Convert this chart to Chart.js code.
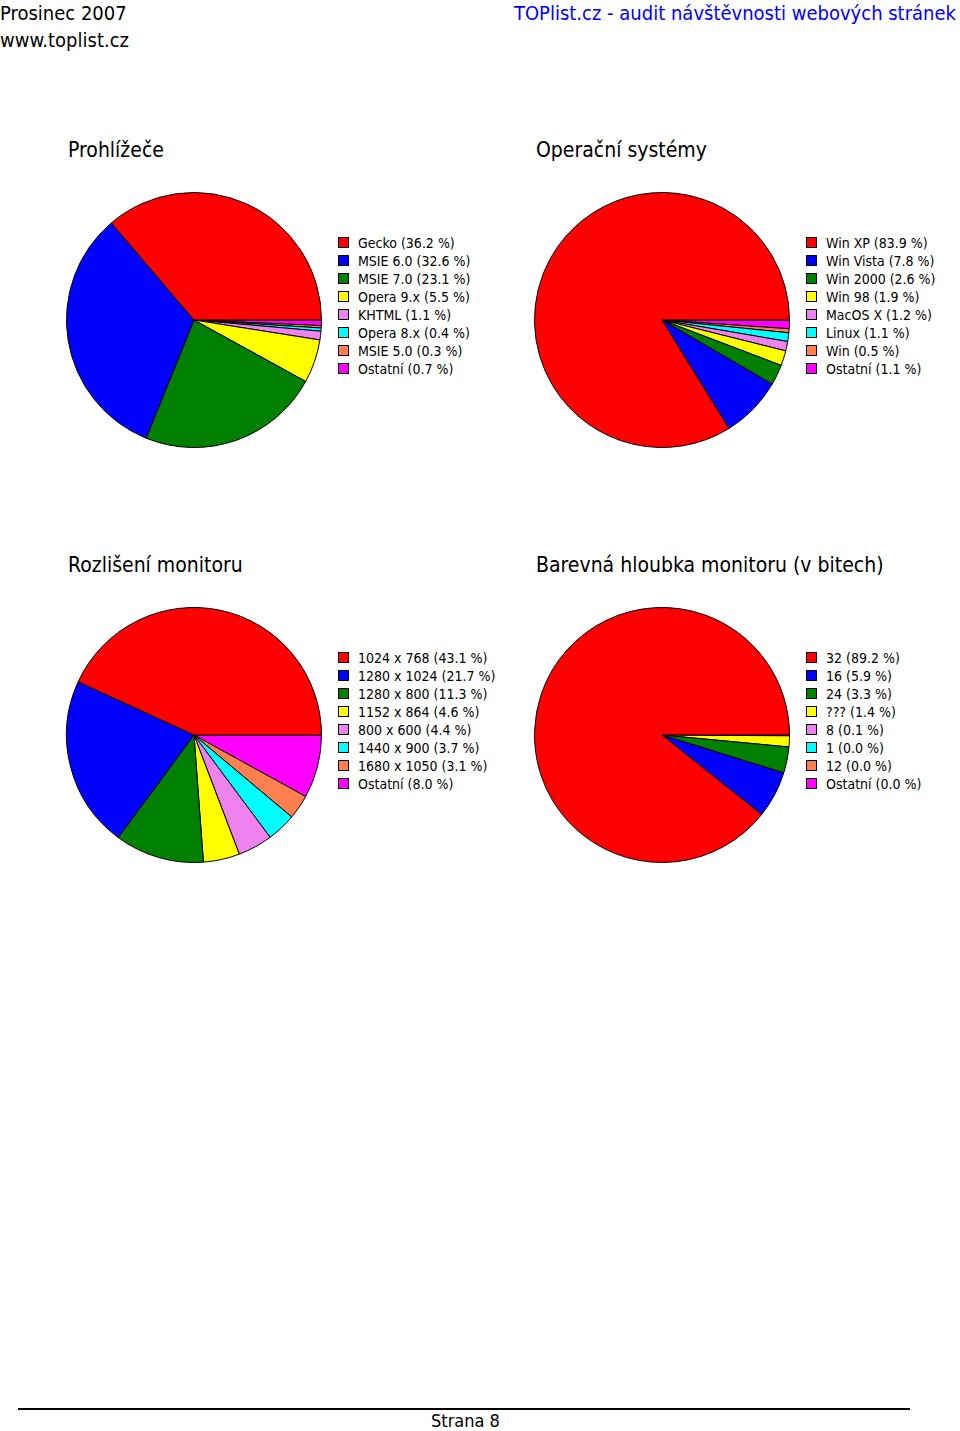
<!DOCTYPE html>
<html><head><meta charset="utf-8">
<script src="https://cdn.jsdelivr.net/npm/chart.js@4"></script>
<style>
body{margin:0;width:960px;height:1431px;position:relative;background:#fff;font-family:"DejaVu Sans Condensed","DejaVu Sans",sans-serif;}
.t{position:absolute;white-space:nowrap;}
canvas{position:absolute;}
.lg{position:absolute;font-size:14px;line-height:18px;}
.lg div{height:18px;white-space:nowrap;}
.lg span{display:inline-block;width:9px;height:9px;border:1px solid #000;margin-right:9px;vertical-align:0px;}
</style></head><body>
<div class="t" style="left:0;top:1px;font-size:20px">Prosinec 2007</div>
<div class="t" style="left:0;top:28px;font-size:20px">www.toplist.cz</div>
<div class="t" style="right:4px;top:1px;font-size:20px;color:#0000ff">TOPlist.cz - audit návštěvnosti webových stránek</div>
<div class="t" style="left:68px;top:138px;font-size:21px">Prohlížeče</div>
<div class="t" style="left:536px;top:138px;font-size:21px">Operační systémy</div>
<div class="t" style="left:68px;top:553px;font-size:21px">Rozlišení monitoru</div>
<div class="t" style="left:536px;top:553px;font-size:21px">Barevná hloubka monitoru (v bitech)</div>
<div style="position:absolute;left:18px;top:1408px;width:892px;height:2px;background:#000"></div>
<div class="t" style="left:431px;top:1410px;font-size:18px">Strana 8</div>
<script>
const colors=['#ff0000','#0000ff','#008000','#ffff00','#ee82ee','#00ffff','#ff7f50','#ff00ff'];
const browserLabels=['Gecko','MSIE 6.0','MSIE 7.0','Opera 9.x','KHTML','Opera 8.x','MSIE 5.0','Ostatní'];
const browserValues=[36.2,32.6,23.1,5.5,1.1,0.4,0.3,0.7];
const osLabels=['Win XP','Win Vista','Win 2000','Win 98','MacOS X','Linux','Win','Ostatní'];
const osValues=[83.9,7.8,2.6,1.9,1.2,1.1,0.5,1.1];
const resLabels=['1024 x 768','1280 x 1024','1280 x 800','1152 x 864','800 x 600','1440 x 900','1680 x 1050','Ostatní'];
const resValues=[43.1,21.7,11.3,4.6,4.4,3.7,3.1,8.0];
const depthLabels=['32','16','24','???','8','1','12','Ostatní'];
const depthValues=[89.2,5.9,3.3,1.4,0.1,0.0,0.0,0.0];
function make(labels,values,cx,cy,lx,ly){
  const s=258;
  const c=document.createElement('canvas');
  c.width=s;c.height=s;c.style.left=(cx-s/2)+'px';c.style.top=(cy-s/2)+'px';
  document.body.appendChild(c);
  new Chart(c,{type:'pie',data:{labels:labels.slice().reverse(),datasets:[{data:values.slice().reverse(),backgroundColor:colors.slice().reverse(),borderColor:'#000',borderWidth:1}]},
    options:{responsive:false,animation:false,rotation:90,layout:{padding:1},plugins:{legend:{display:false},tooltip:{enabled:false}}}});
  const lg=document.createElement('div');lg.className='lg';lg.style.left=lx+'px';lg.style.top=ly+'px';
  labels.forEach((l,i)=>{const d=document.createElement('div');d.innerHTML='<span style="background:'+colors[i]+'"></span>'+l+' ('+values[i].toFixed(1)+' %)';lg.appendChild(d);});
  document.body.appendChild(lg);
}
make(browserLabels,browserValues,194,320,338,234);
make(osLabels,osValues,662,320,806,234);
make(resLabels,resValues,194,735,338,649);
make(depthLabels,depthValues,662,735,806,649);
</script>
</body></html>
